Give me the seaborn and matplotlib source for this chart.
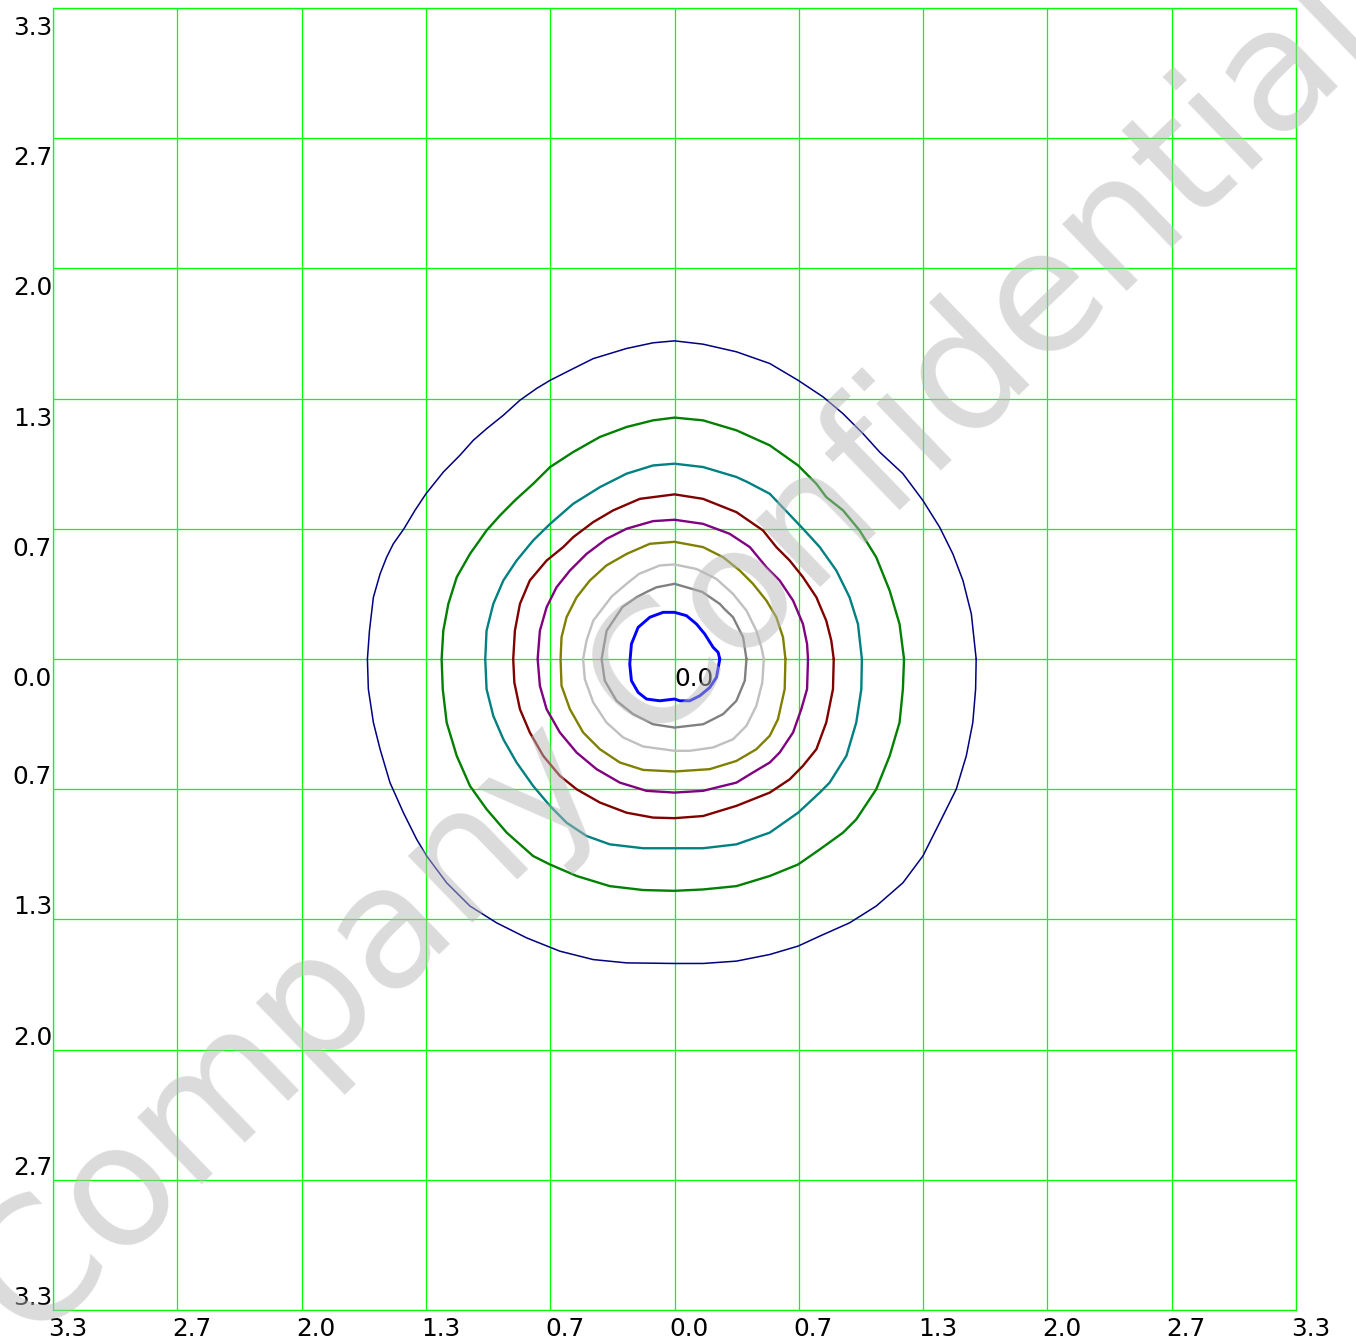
import numpy as np
import pandas as pd
import matplotlib
matplotlib.use('Agg')
import matplotlib.pyplot as plt
from matplotlib.transforms import offset_copy
import seaborn as sns

# axis spans +-10/3, 10 grid cells each way
tick_vals = [-10/3, -8/3, -2.0, -4/3, -2/3, 0.0, 2/3, 4/3, 2.0, 8/3, 10/3]
tick_labels = ['3.3', '2.7', '2.0', '1.3', '0.7', '0.0', '0.7', '1.3', '2.0', '2.7', '3.3']

# contour outlines (x, y), counter-clockwise from +x
navy_pts = [
    (1.618, 0.0), (1.592, 0.231), (1.547, 0.402), (1.493, 0.538), (1.422, 0.675),
    (1.332, 0.812), (1.225, 0.949), (1.100, 1.060), (1.011, 1.154), (0.904, 1.256),
    (0.797, 1.342), (0.663, 1.427), (0.511, 1.513), (0.332, 1.573), (0.153, 1.612),
    (0.0, 1.629), (-0.115, 1.619), (-0.257, 1.590), (-0.436, 1.538), (-0.543, 1.487),
    (-0.667, 1.427), (-0.740, 1.385), (-0.829, 1.325), (-0.918, 1.248), (-1.008, 1.179),
    (-1.079, 1.120), (-1.151, 1.043), (-1.240, 0.957), (-1.333, 0.846), (-1.392, 0.761),
    (-1.451, 0.667), (-1.508, 0.590), (-1.544, 0.521), (-1.579, 0.436), (-1.615, 0.316),
    (-1.636, 0.145), (-1.647, 0.0), (-1.642, -0.154), (-1.615, -0.325), (-1.579, -0.462),
    (-1.526, -0.633), (-1.454, -0.787), (-1.383, -0.923), (-1.329, -1.009), (-1.222, -1.146),
    (-1.097, -1.265), (-0.954, -1.351), (-0.793, -1.428), (-0.615, -1.496), (-0.436, -1.539),
    (-0.257, -1.556), (0.0, -1.559), (0.153, -1.559), (0.332, -1.547), (0.511, -1.513),
    (0.663, -1.470), (0.779, -1.419), (0.939, -1.351), (1.082, -1.265), (1.225, -1.146),
    (1.332, -1.009), (1.422, -0.838), (1.511, -0.667), (1.565, -0.496), (1.600, -0.325),
    (1.615, -0.154),
]
green_pts = [
    (1.231, 0.0), (1.207, 0.179), (1.154, 0.350), (1.082, 0.521), (0.993, 0.658),
    (0.904, 0.761), (0.814, 0.829), (0.761, 0.897), (0.663, 0.991), (0.511, 1.094),
    (0.332, 1.171), (0.153, 1.222), (0.0, 1.236), (-0.115, 1.222), (-0.257, 1.188),
    (-0.400, 1.137), (-0.543, 1.060), (-0.667, 0.983), (-0.758, 0.897), (-0.856, 0.812),
    (-0.936, 0.735), (-1.008, 0.658), (-1.097, 0.538), (-1.168, 0.419), (-1.213, 0.282),
    (-1.240, 0.145), (-1.249, 0.0), (-1.243, -0.154), (-1.222, -0.325), (-1.168, -0.496),
    (-1.097, -0.650), (-1.008, -0.769), (-0.900, -0.889), (-0.758, -1.009), (-0.668, -1.052),
    (-0.525, -1.111), (-0.347, -1.163), (-0.168, -1.183), (0.0, -1.187), (0.153, -1.180),
    (0.332, -1.163), (0.511, -1.111), (0.663, -1.052), (0.779, -0.975), (0.904, -0.889),
    (0.975, -0.821), (1.082, -0.667), (1.154, -0.496), (1.207, -0.325), (1.225, -0.154),
]
teal_pts = [
    (1.005, 0.0), (0.984, 0.179), (0.939, 0.316), (0.868, 0.453), (0.779, 0.573),
    (0.693, 0.663), (0.511, 0.846), (0.391, 0.906), (0.332, 0.932), (0.153, 0.983),
    (0.0, 1.000), (-0.115, 0.991), (-0.257, 0.949), (-0.400, 0.880), (-0.543, 0.795),
    (-0.667, 0.692), (-0.758, 0.607), (-0.847, 0.504), (-0.918, 0.402), (-0.972, 0.282),
    (-1.008, 0.145), (-1.015, 0.0), (-1.008, -0.154), (-0.972, -0.291), (-0.918, -0.411),
    (-0.847, -0.530), (-0.758, -0.650), (-0.668, -0.752), (-0.579, -0.838), (-0.472, -0.906),
    (-0.347, -0.949), (-0.168, -0.969), (0.0, -0.969), (0.153, -0.969), (0.332, -0.949),
    (0.511, -0.889), (0.663, -0.787), (0.779, -0.684), (0.832, -0.633), (0.922, -0.496),
    (0.975, -0.325), (1.002, -0.154),
]
maroon_pts = [
    (0.854, 0.0), (0.841, 0.094), (0.814, 0.196), (0.761, 0.316), (0.689, 0.419),
    (0.618, 0.504), (0.546, 0.573), (0.475, 0.658), (0.332, 0.752), (0.153, 0.820),
    (0.0, 0.843), (-0.186, 0.820), (-0.329, 0.761), (-0.436, 0.701), (-0.543, 0.624),
    (-0.597, 0.573), (-0.686, 0.504), (-0.776, 0.402), (-0.829, 0.282), (-0.856, 0.145),
    (-0.865, 0.0), (-0.859, -0.120), (-0.829, -0.257), (-0.776, -0.376), (-0.704, -0.496),
    (-0.615, -0.598), (-0.525, -0.667), (-0.400, -0.735), (-0.257, -0.787), (-0.115, -0.812),
    (0.0, -0.815), (0.153, -0.804), (0.332, -0.752), (0.511, -0.684), (0.618, -0.616),
    (0.689, -0.547), (0.761, -0.462), (0.814, -0.325), (0.850, -0.154),
]
purple_pts = [
    (0.716, 0.0), (0.711, 0.077), (0.689, 0.179), (0.636, 0.299), (0.564, 0.402),
    (0.493, 0.470), (0.404, 0.573), (0.296, 0.641), (0.153, 0.692), (0.0, 0.713),
    (-0.115, 0.706), (-0.257, 0.667), (-0.365, 0.615), (-0.472, 0.538), (-0.561, 0.453),
    (-0.633, 0.367), (-0.686, 0.265), (-0.722, 0.145), (-0.734, 0.0), (-0.722, -0.137),
    (-0.686, -0.257), (-0.615, -0.376), (-0.525, -0.479), (-0.418, -0.564), (-0.293, -0.633),
    (-0.150, -0.675), (0.0, -0.684), (0.153, -0.675), (0.332, -0.633), (0.421, -0.581),
    (0.511, -0.530), (0.564, -0.479), (0.636, -0.376), (0.680, -0.257), (0.711, -0.154),
]
olive_pts = [
    (0.595, 0.0), (0.582, 0.111), (0.546, 0.214), (0.493, 0.299), (0.421, 0.385),
    (0.350, 0.453), (0.261, 0.521), (0.153, 0.573), (0.0, 0.600), (-0.132, 0.590),
    (-0.257, 0.538), (-0.365, 0.479), (-0.454, 0.402), (-0.525, 0.316), (-0.579, 0.214),
    (-0.606, 0.111), (-0.611, 0.0), (-0.606, -0.137), (-0.561, -0.257), (-0.490, -0.376),
    (-0.400, -0.462), (-0.293, -0.530), (-0.168, -0.568), (0.0, -0.576), (0.189, -0.564),
    (0.332, -0.522), (0.439, -0.462), (0.511, -0.393), (0.555, -0.308), (0.591, -0.154),
]
silver_pts = [
    (0.479, 0.0), (0.466, 0.060), (0.439, 0.145), (0.386, 0.248), (0.314, 0.333),
    (0.225, 0.410), (0.118, 0.461), (0.0, 0.484), (-0.079, 0.479), (-0.190, 0.436),
    (-0.257, 0.385), (-0.336, 0.321), (-0.436, 0.196), (-0.472, 0.094), (-0.490, 0.0),
    (-0.481, -0.103), (-0.436, -0.222), (-0.365, -0.325), (-0.275, -0.402), (-0.168, -0.448),
    (0.0, -0.470), (0.082, -0.470), (0.207, -0.453), (0.314, -0.411), (0.386, -0.342),
    (0.439, -0.240), (0.471, -0.120),
]
gray_pts = [
    (0.386, 0.0), (0.368, 0.111), (0.314, 0.214), (0.268, 0.256), (0.243, 0.282),
    (0.148, 0.344), (0.0, 0.385), (-0.097, 0.367), (-0.148, 0.344), (-0.204, 0.316),
    (-0.279, 0.266), (-0.364, 0.145), (-0.391, 0.0), (-0.374, -0.111), (-0.311, -0.214),
    (-0.263, -0.251), (-0.222, -0.282), (-0.115, -0.334), (0.0, -0.351), (0.154, -0.334),
    (0.261, -0.282), (0.332, -0.214), (0.377, -0.111),
]
blue_pts = [
    (0.243, 0.0), (0.234, 0.034), (0.207, 0.060), (0.162, 0.128), (0.118, 0.179),
    (0.064, 0.222), (0.0, 0.239), (-0.061, 0.239), (-0.132, 0.214), (-0.195, 0.162),
    (-0.231, 0.077), (-0.240, -0.026), (-0.231, -0.111), (-0.195, -0.171), (-0.150, -0.205),
    (-0.079, -0.214), (0.0, -0.205), (0.028, -0.214), (0.082, -0.214), (0.136, -0.188),
    (0.189, -0.146), (0.225, -0.094),
]

contours = [
    (navy_pts, '#000080', 1.1),
    (green_pts, '#008000', 1.7),
    (teal_pts, '#008080', 1.7),
    (maroon_pts, '#800000', 1.7),
    (purple_pts, '#800080', 1.7),
    (olive_pts, '#808000', 1.7),
    (silver_pts, '#c0c0c0', 1.7),
    (gray_pts, '#808080', 1.7),
    (blue_pts, '#0000ff', 2.1),
]

sns.set_style('white')
plt.rcParams['font.family'] = ['DejaVu Sans']

fig = plt.figure(figsize=(13.56, 13.44), dpi=100)
ax = fig.add_axes([53 / 1356, 34 / 1344, 1243 / 1356, 1302 / 1344])

for pts, col, lw in contours:
    closed = pts + pts[:1]
    df = pd.DataFrame(closed, columns=['x', 'y'])
    sns.lineplot(data=df, x='x', y='y', sort=False, estimator=None,
                 color=col, lw=lw, ax=ax)

lim = 10 / 3
ax.set_xlim(-lim, lim)
ax.set_ylim(-lim, lim)
ax.set_xticks(tick_vals)
ax.set_yticks(tick_vals)
ax.tick_params(length=0, labelbottom=False, labelleft=False)
ax.set_xlabel('')
ax.set_ylabel('')
ax.set_axisbelow(True)
ax.grid(True, color='#00ff00', lw=0.9)
for s in ax.spines.values():
    s.set_color('#00ff00')
    s.set_linewidth(0.9)

fs = 17.8
xt = offset_copy(ax.get_xaxis_transform(), fig=fig, x=-5, y=-7, units='dots')
for v, lab in zip(tick_vals, tick_labels):
    ax.text(v, 0, lab, transform=xt, ha='left', va='top', fontsize=fs,
            color='black', clip_on=False)

yt_top = offset_copy(ax.get_yaxis_transform(), fig=fig, x=-1, y=-8, units='dots')
yt_bot = offset_copy(ax.get_yaxis_transform(), fig=fig, x=-1, y=0, units='dots')
for v, lab in zip(tick_vals, tick_labels):
    if v >= 0:
        ax.text(0, v, lab, transform=yt_top, ha='right', va='top',
                fontsize=fs, color='black', clip_on=False)
    else:
        ax.text(0, v, lab, transform=yt_bot, ha='right', va='bottom',
                fontsize=fs, color='black', clip_on=False)

# origin label
ot = offset_copy(ax.transData, fig=fig, x=0, y=-8, units='dots')
ax.text(0, 0, '0.0', transform=ot, ha='left', va='top', fontsize=fs, color='black')

# watermark on top of everything
fig.text(675 / 1356, 1 - 662 / 1344, 'Company Confidential', rotation=44,
         rotation_mode='anchor', ha='center', va='center', fontsize=122,
         color='#b8b8b8', alpha=0.5, zorder=10)

fig.savefig('out.png', dpi=100)
